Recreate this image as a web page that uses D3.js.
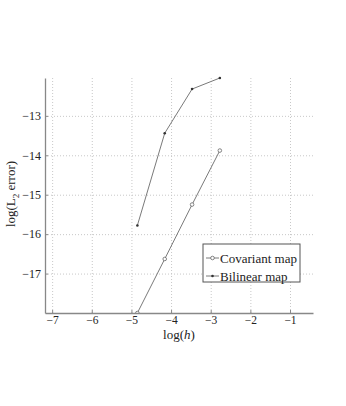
<!DOCTYPE html>
<html lang="en">
<head>
    <meta charset="UTF-8">
    <title>log error</title>
    <script src="https://cdn.jsdelivr.net/npm/d3@7"></script>
    <style>
        body { margin: 0; background: #fff; }
        text { font-family: "Liberation Serif", "Times New Roman", serif; }
        .grid line { stroke: #c8c8c8; stroke-dasharray: 1,2; }
        .grid path { display: none; }
        .axis path, .axis line { stroke: #888; }
    </style>
</head>
<body>
<div id="d3"></div>
<script>
    var width = 346;
    var height = 406;

    // log(h) values and log(L2 error) for each map
    var logH = [-4.85, -4.16, -3.47, -2.77];
    var covariant = [-18.0, -16.63, -15.25, -13.88];
    var bilinear = [-15.78, -13.44, -12.32, -12.04];
    var xTicks = [-7, -6, -5, -4, -3, -2, -1];
    var yTicks = [-17, -16, -15, -14, -13];
    var seriesNames = ["Covariant map", "Bilinear map"];

    var padding = {left: 45, right: 33, top: 78, bottom: 93};
    var plotW = width - padding.left - padding.right;
    var plotH = height - padding.top - padding.bottom;

    var svg = d3.select("#d3")
            .append("svg")
            .attr("width", width)
            .attr("height", height);

    var xScale = d3.scaleLinear()
            .domain([-7.18, -0.42])
            .range([0, plotW]);

    var yScale = d3.scaleLinear()
            .domain([-18, -12.04])
            .range([plotH, 0]);

    var fmt = function (d) {
        return String(d).replace("-", "\u2212");
    };

    var g = svg.append("g")
            .attr("transform", "translate(" + padding.left + "," + padding.top + ")");

    // grid
    g.append("g")
            .attr("class", "grid")
            .attr("transform", "translate(0," + plotH + ")")
            .call(d3.axisBottom(xScale).tickValues(xTicks).tickSize(-plotH).tickFormat(""));
    g.append("g")
            .attr("class", "grid")
            .call(d3.axisLeft(yScale).tickValues(yTicks).tickSize(-plotW).tickFormat(""));

    svg.append("clipPath")
            .attr("id", "clip")
            .append("rect")
            .attr("y", -3)
            .attr("width", plotW)
            .attr("height", plotH + 3);

    var line = d3.line()
            .x(function (d, i) { return xScale(logH[i]); })
            .y(function (d) { return yScale(d); });

    var plot = g.append("g").attr("clip-path", "url(#clip)");

    plot.append("path")
            .attr("d", line(covariant))
            .attr("fill", "none")
            .attr("stroke", "#7a7a7a")
            .attr("stroke-width", 1);

    plot.selectAll(".cov")
            .data(covariant)
            .enter()
            .append("circle")
            .attr("class", "cov")
            .attr("cx", function (d, i) { return xScale(logH[i]); })
            .attr("cy", function (d) { return yScale(d); })
            .attr("r", 1.8)
            .attr("fill", "#fff")
            .attr("stroke", "#666")
            .attr("stroke-width", 0.8);

    plot.append("path")
            .attr("d", line(bilinear))
            .attr("fill", "none")
            .attr("stroke", "#7a7a7a")
            .attr("stroke-width", 1);

    plot.selectAll(".bil")
            .data(bilinear)
            .enter()
            .append("circle")
            .attr("class", "bil")
            .attr("cx", function (d, i) { return xScale(logH[i]); })
            .attr("cy", function (d) { return yScale(d); })
            .attr("r", 1.3)
            .attr("fill", "#333");

    // axes
    var xAxisG = g.append("g")
            .attr("class", "axis")
            .attr("transform", "translate(0," + plotH + ")")
            .call(d3.axisBottom(xScale).tickValues(xTicks).tickSizeInner(-3).tickSizeOuter(0).tickPadding(3).tickFormat(fmt));

    var yAxisG = g.append("g")
            .attr("class", "axis")
            .call(d3.axisLeft(yScale).tickValues(yTicks).tickSizeInner(-3).tickSizeOuter(0).tickPadding(4).tickFormat(fmt));

    [xAxisG, yAxisG].forEach(function (a) {
        a.attr("font-family", "Liberation Serif").attr("font-size", 12);
        a.selectAll("text").attr("fill", "#222");
        a.select(".domain").attr("stroke-width", 1.3);
    });
    xAxisG.attr("font-size", 11.5);

    // axis labels
    var xl = svg.append("text")
            .attr("x", padding.left + plotW / 2)
            .attr("y", 339)
            .attr("text-anchor", "middle")
            .style("font-size", "13px")
            .attr("fill", "#222")
            .text("log(");
    xl.append("tspan").style("font-style", "italic").text("h");
    xl.append("tspan").text(")");

    var yl = svg.append("text")
            .attr("transform", "translate(15," + 194 + ") rotate(-90)")
            .attr("text-anchor", "middle")
            .style("font-size", "13px")
            .attr("fill", "#222")
            .text("log(L");
    yl.append("tspan").attr("dy", 4).style("font-size", "9px").text("2");
    yl.append("tspan").attr("dy", -4).text(" error)");

    // legend
    var legend = svg.append("g").attr("transform", "translate(203,244)");
    legend.append("rect")
            .attr("width", 97)
            .attr("height", 38)
            .attr("fill", "#fff")
            .attr("stroke", "#555")
            .attr("stroke-width", 1);

    var rows = legend.selectAll(".row")
            .data(seriesNames)
            .enter()
            .append("g")
            .attr("transform", function (d, i) { return "translate(0," + (14 + i * 18) + ")"; });

    rows.append("line")
            .attr("x1", 3)
            .attr("x2", 16)
            .attr("stroke", "#7a7a7a");

    rows.append("circle")
            .attr("cx", 9.5)
            .attr("r", function (d, i) { return i === 0 ? 1.8 : 1.3; })
            .attr("fill", function (d, i) { return i === 0 ? "#fff" : "#333"; })
            .attr("stroke", function (d, i) { return i === 0 ? "#666" : "none"; })
            .attr("stroke-width", 0.8);

    rows.append("text")
            .attr("x", 17)
            .attr("dy", "0.35em")
            .style("font-size", "13px")
            .attr("fill", "#222")
            .text(function (d) { return d; });
</script>
</body>
</html>
